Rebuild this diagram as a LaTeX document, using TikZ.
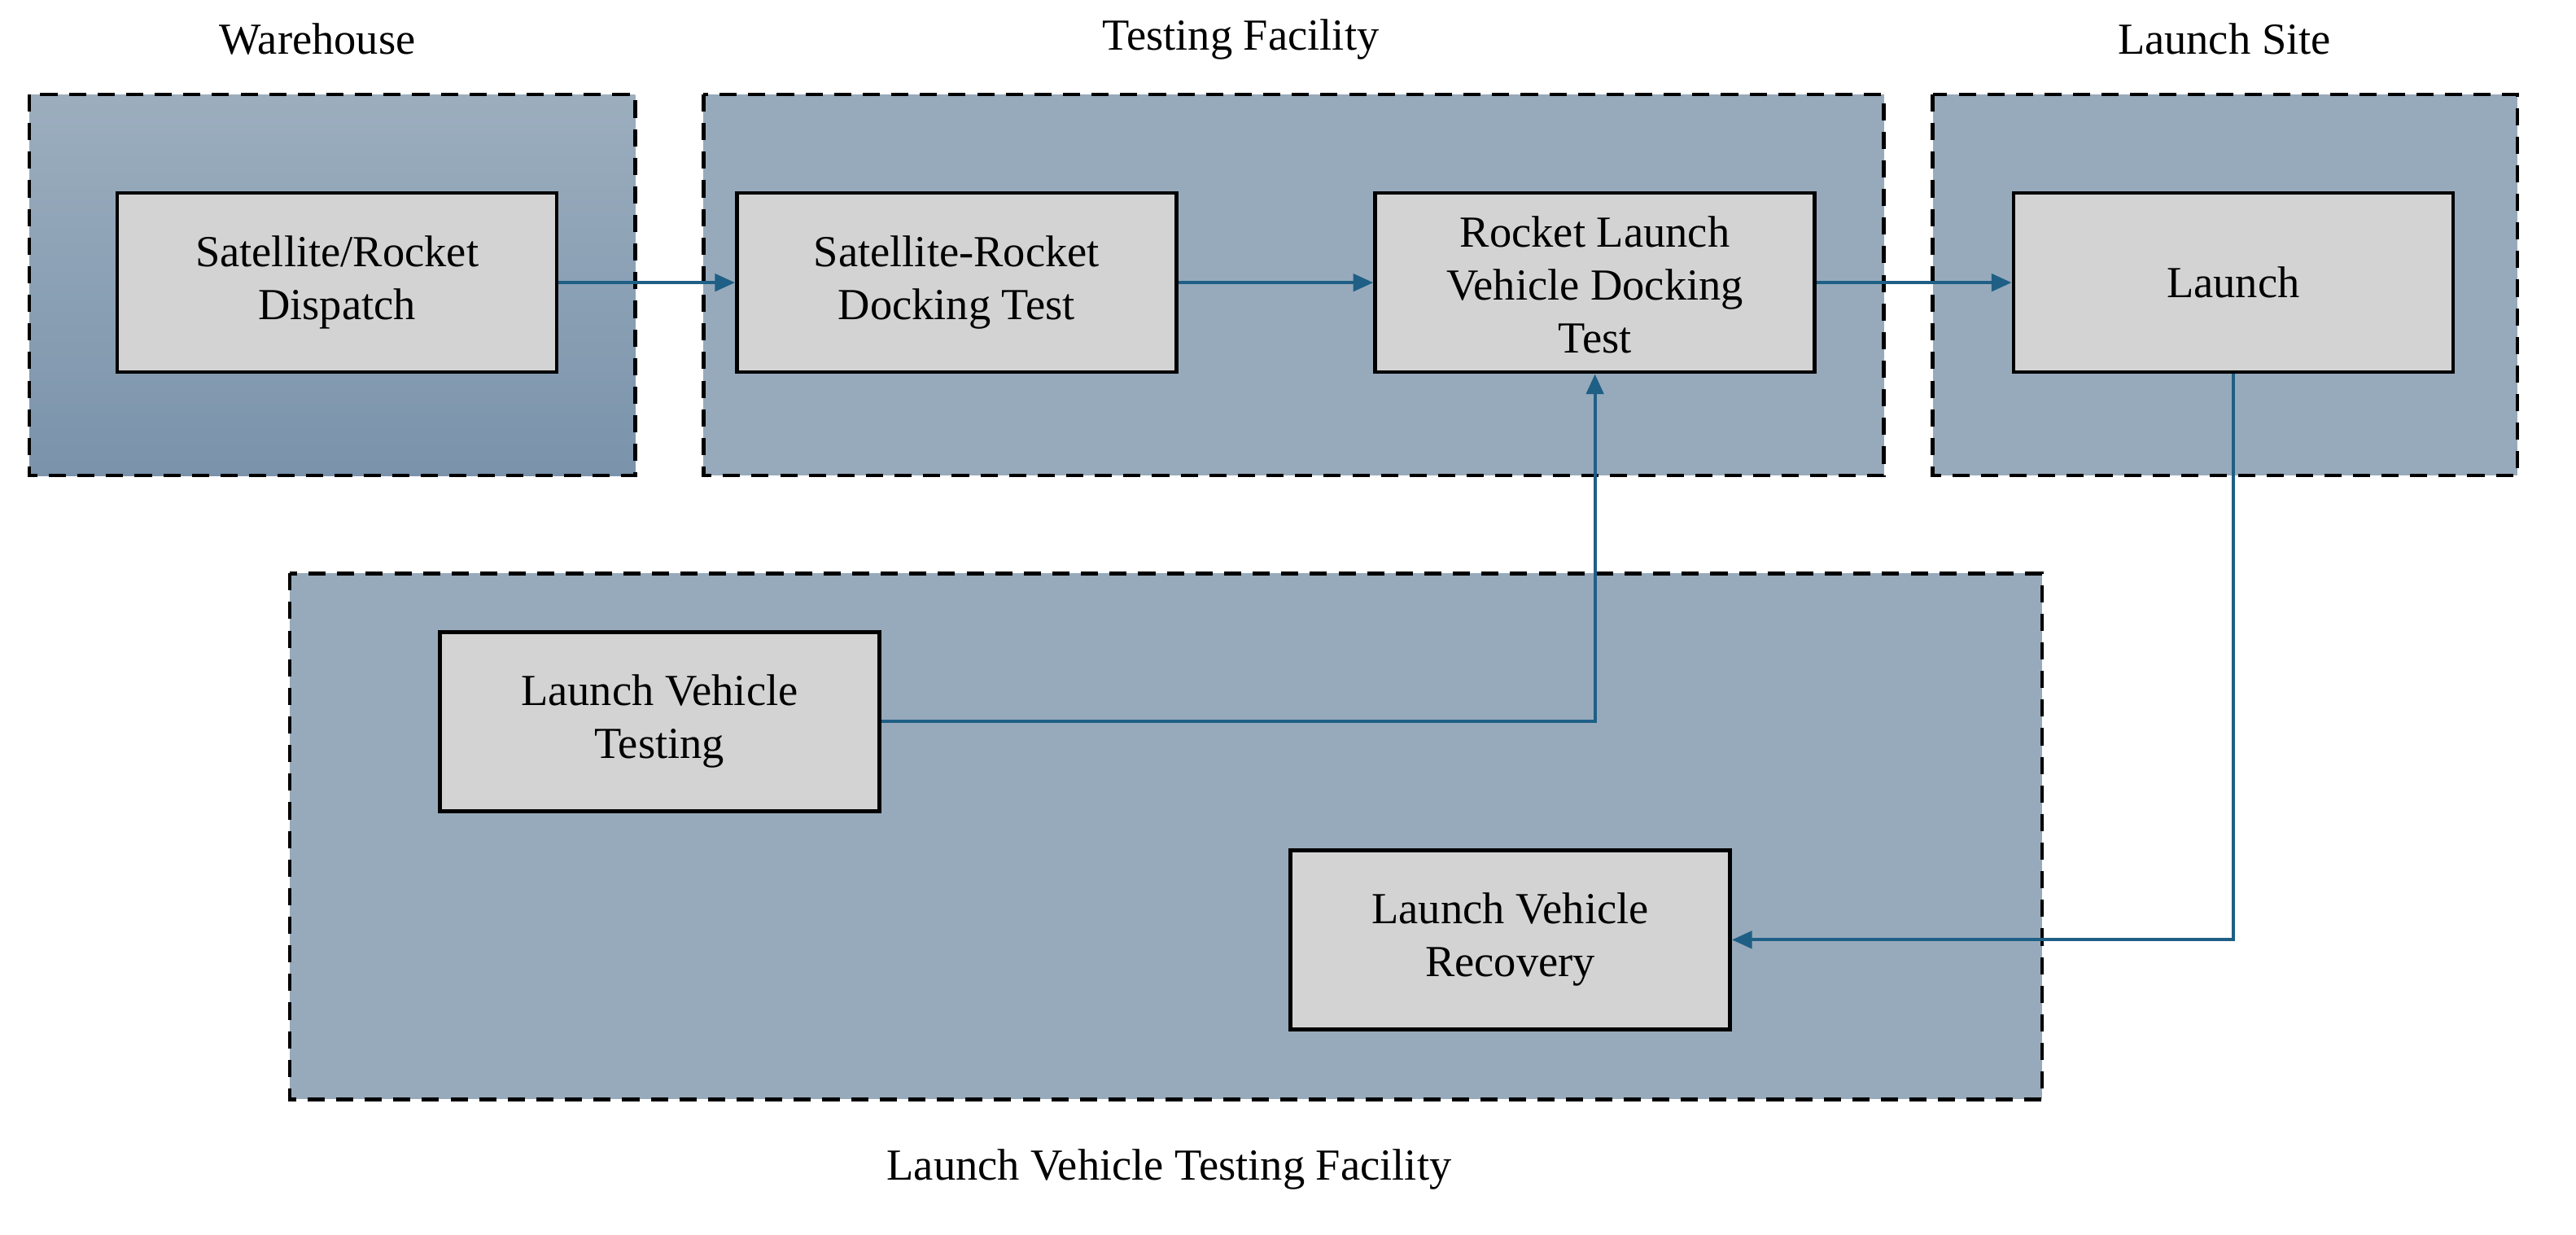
\documentclass[tikz,border=0pt]{standalone}
\usepackage{fontspec}
\setmainfont{Liberation Serif}
\usetikzlibrary{arrows.meta}
\definecolor{grp}{HTML}{97AABB}
\definecolor{grpT}{HTML}{9CAEBE}
\definecolor{grpB}{HTML}{7A93AB}
\definecolor{nd}{HTML}{D3D3D3}
\definecolor{arr}{HTML}{1F5F86}
\begin{document}
\begin{tikzpicture}[x=0.02cm,y=-0.02cm,
  font=\fontsize{15.5}{18.5}\selectfont,
  grpbox/.style={draw=black,line width=1.3pt,dash pattern=on 6pt off 4pt,fill=grp},
  box/.style={draw=black,line width=1.3pt,fill=nd,minimum width=5.4cm,minimum height=2.2cm,align=center,inner sep=0pt},
  conn/.style={draw=arr,line width=1.2pt,-{Triangle[length=7pt,width=6pt]}},
  lbl/.style={inner sep=0pt}]
\useasboundingbox (0,0) rectangle (1582,758);
\draw[grpbox,top color=grpT,bottom color=grpB] (18,58) rectangle (390,292);
\draw[grpbox] (432,58) rectangle (1157,292);
\draw[grpbox] (1187,58) rectangle (1546,292);
\draw[grpbox] (178,352) rectangle (1254,675);
\node[lbl] (t1) at (195,24) {Warehouse};
\node[lbl] (t2) at (762,24) {Testing Facility};
\node[lbl] (t3) at (1366,24) {Launch Site};
\node[lbl] (t4) at (718,718) {Launch Vehicle Testing Facility};
\node[box] (a) at (207,173.5) {Satellite/Rocket\\Dispatch};
\node[box] (b) at (587.5,173.5) {Satellite-Rocket\\Docking Test};
\node[box] (c) at (979.5,173.5) {};
\node[lbl,align=center] (ct) at (979.5,175) {Rocket Launch\\Vehicle Docking\\Test};
\node[box] (d) at (1371.5,173.5) {Launch};
\node[box] (e) at (405,443) {Launch Vehicle\\Testing};
\node[box] (f) at (927.5,577) {Launch Vehicle\\Recovery};
\draw[conn] (a) -- (b);
\draw[conn] (b) -- (c);
\draw[conn] (c) -- (d);
\draw[conn] (e.east) -| (c.south);
\draw[conn] (d.south) |- (f.east);
\end{tikzpicture}
\end{document}
